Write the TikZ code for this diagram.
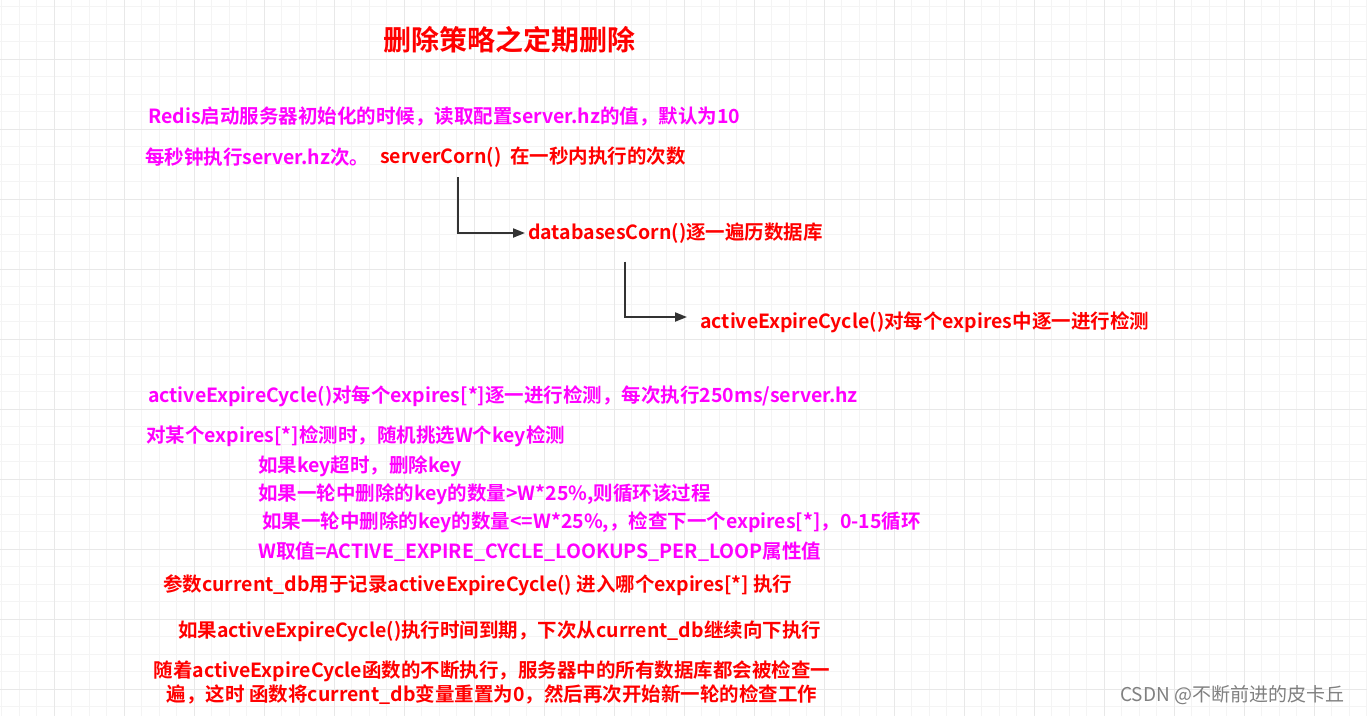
\documentclass[tikz,border=0pt]{standalone}
\usepackage{fontspec}
\setmainfont{Noto Sans CJK SC}[BoldFont={* Bold}]
\usepackage{tikz}
\usetikzlibrary{positioning, arrows.meta}

\definecolor{hotred}{HTML}{FF0000}
\definecolor{hotpink}{HTML}{FF00FF}
\definecolor{gridminor}{HTML}{F4F4F4}
\definecolor{gridmajor}{HTML}{E8E8E8}
\definecolor{linkgray}{HTML}{333333}

\tikzset{
  txt/.style={anchor=west, inner sep=0pt, font=\fontsize{19.5}{24}\selectfont\bfseries},
  redtxt/.style={txt, text=hotred},
  pinktxt/.style={txt, text=hotpink},
  flow/.style={-{Triangle[length=12pt,width=9pt]}, line width=2pt, draw=linkgray},
}

\begin{document}
\begin{tikzpicture}[x=1pt, y=-1pt]
    \useasboundingbox (0,0) rectangle (1367,716);
    \fill[white] (0,0) rectangle (1367,716);
    \begin{scope}
    \clip (0,0) rectangle (1367,716);
    % background grid
    \foreach \gx in {1.5,19,...,1370} \draw[gridminor, line width=1pt] (\gx,0) -- (\gx,716);
    \foreach \gy in {6.5,24,...,720} \draw[gridminor, line width=1pt] (0,\gy) -- (1367,\gy);
    \foreach \gx in {54,124,...,1370} \draw[gridmajor, line width=1pt] (\gx,0) -- (\gx,716);
    \foreach \gy in {59,129,...,720} \draw[gridmajor, line width=1pt] (0,\gy) -- (1367,\gy);
    \end{scope}

    \node[redtxt, anchor=center, font=\fontsize{28}{33}\selectfont\bfseries] (title) at (509,40) {删除策略之定期删除};

    \node[pinktxt] (initcfg) at (148,117) {Redis启动服务器初始化的时候，读取配置server.hz的值，默认为10};
    \node[pinktxt] (persec) at (145,157) {每秒钟执行server.hz次。};
    \node[redtxt] (sc) at (380,157) {serverCorn()\ \ 在一秒内执行的次数};
    \node[redtxt] (db) at (528,233) {databasesCorn()逐一遍历数据库};
    \node[redtxt] (aec) at (700,322) {activeExpireCycle()对每个expires中逐一进行检测};

    \draw[flow, shorten >=3pt] ([xshift=78pt, yshift=-10pt]sc.south west) |- (db.west);
    \draw[flow, shorten >=13pt] ([xshift=97pt, yshift=-18pt]db.south west) |- ([yshift=5pt]aec.west);

    \node[pinktxt] (aecrun) at (148,396) {activeExpireCycle()对每个expires[*]逐一进行检测，每次执行250ms/server.hz};
    \node[pinktxt] (pick) at (146,436) {对某个expires[*]检测时，随机挑选W个key检测};
    \node[pinktxt] (keydel) at (258,466) {如果key超时，删除key};
    \node[pinktxt] (loopgt) at (258,494) {如果一轮中删除的key的数量>W*25\%,则循环该过程};
    \node[pinktxt] (loople) at (262,522) {如果一轮中删除的key的数量<=W*25\%,，检查下一个expires[*]，0-15循环};
    \node[pinktxt] (wval) at (258,552) {W取值=ACTIVE\_EXPIRE\_CYCLE\_LOOKUPS\_PER\_LOOP属性值};

    \node[redtxt] (curdb) at (163,585) {参数current\_db用于记录activeExpireCycle() 进入哪个expires[*] 执行};
    \node[redtxt] (timeout) at (178,631) {如果activeExpireCycle()执行时间到期，下次从current\_db继续向下执行};
    \node[redtxt, anchor=center, align=center, font=\fontsize{19.5}{24}\selectfont\bfseries] (sweep) at (492,683)
        {随着activeExpireCycle函数的不断执行，服务器中的所有数据库都会被检查一\\遍，这时 函数将current\_db变量重置为0，然后再次开始新一轮的检查工作};

    \node[anchor=west, inner sep=0pt, text=gray, font=\fontsize{19}{22}\selectfont] (mark) at (1120,695) {CSDN @不断前进的皮卡丘};
\end{tikzpicture}
\end{document}
